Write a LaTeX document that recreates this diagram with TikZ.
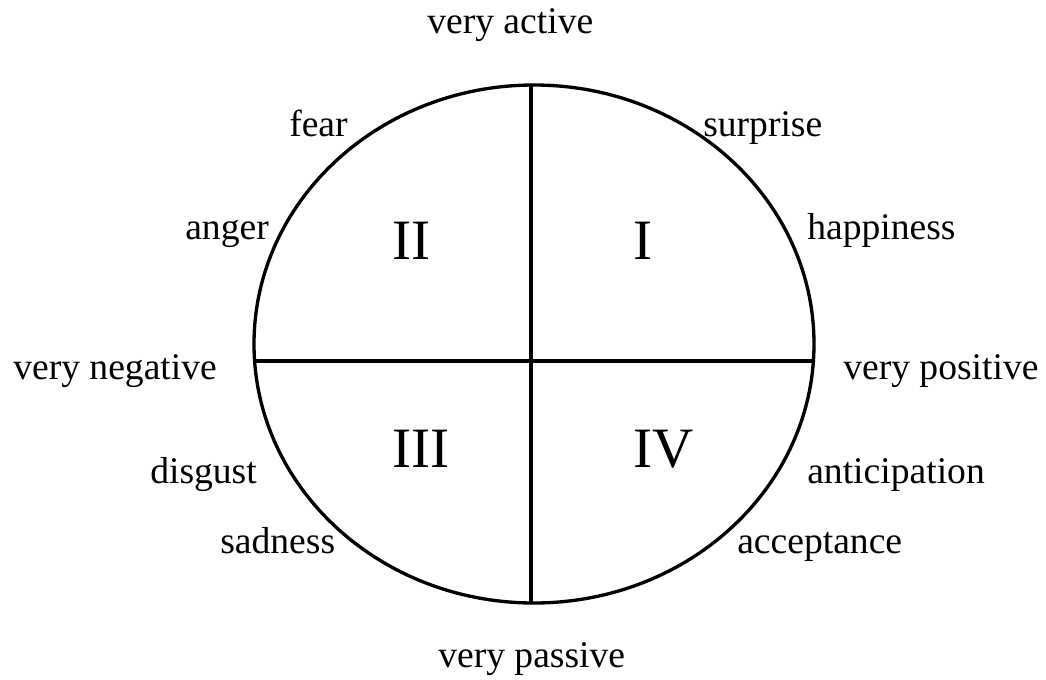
\documentclass[tikz,border=0pt]{standalone}
\usepackage{fontspec}
\setmainfont{Liberation Serif}
\usepackage{tikz}

\begin{document}
\begin{tikzpicture}[x=0.75pt, y=-0.75pt,
    lbl/.style={anchor=base west, inner sep=0pt, font=\fontsize{28.2}{34}\selectfont},
    quad/.style={anchor=base west, inner sep=0pt, font=\fontsize{42.8}{50}\selectfont}]
    \useasboundingbox (0,0) rectangle (1046,679);

    % circle and axes
    \coordinate (top) at (531,85);
    \coordinate (bot) at (531,603);
    \coordinate (lft) at (254.6,361);
    \coordinate (rgt) at (813.4,361);
    \draw[line width=2.5pt] (534,344) ellipse (280 and 259);
    \draw[line width=2.5pt] (top) -- (bot);
    \draw[line width=2.5pt] (lft) -- (rgt);

    % axis ends
    \node[lbl] (act) at (427,33) {very active};
    \node[lbl] (pas) at (438,667) {very passive};
    \node[lbl] (neg) at (13,379) {very negative};
    \node[lbl] (pos) at (843,379) {very positive};

    % emotions
    \node[lbl] (fear) at (289,136) {fear};
    \node[lbl] (surp) at (703,136) {surprise};
    \node[lbl] (ang) at (185,239) {anger};
    \node[lbl] (hap) at (807,239) {happiness};
    \node[lbl] (disg) at (150,483) {disgust};
    \node[lbl] (anti) at (807,483) {anticipation};
    \node[lbl] (sad) at (220,553) {sadness};
    \node[lbl] (acc) at (737,553) {acceptance};

    % quadrants
    \node[quad] (q2) at (392,259) {II};
    \node[quad] (q1) at (633,259) {I};
    \node[quad] (q3) at (392,467) {III};
    \node[quad] (q4) at (633,467) {IV};
\end{tikzpicture}
\end{document}
